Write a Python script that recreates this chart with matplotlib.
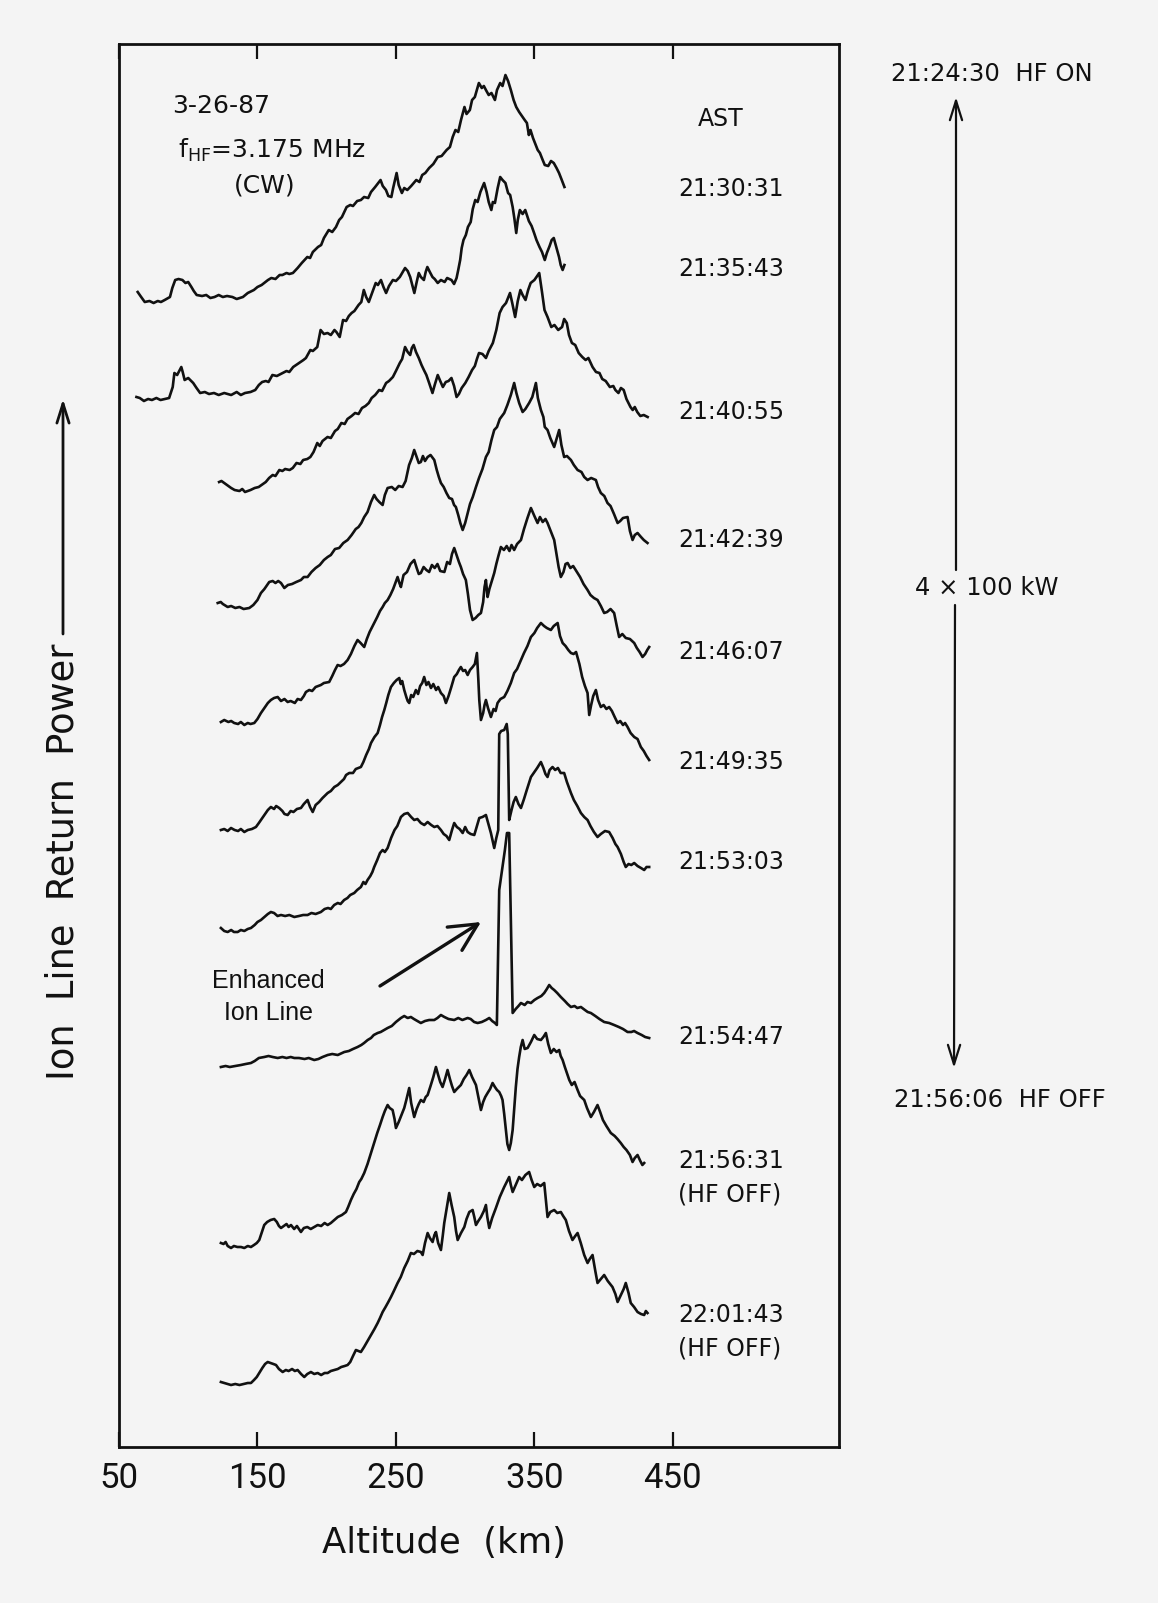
import matplotlib.pyplot as plt

# ion line return power profiles, Arecibo 3-26-87
# each profile: (altitude km, relative power)
times = ['21:30:31', '21:35:43', '21:40:55', '21:42:39', '21:46:07',
         '21:49:35', '21:53:03', '21:54:47', '21:56:31\n(HF OFF)', '22:01:43\n(HF OFF)']
offsets = [1147, 1049, 962, 844, 725, 618, 517, 381, 200, 64]

p2130 = [(63.5, 8), (65.5, 4), (68.6, -2), (72, -1), (75, -3), (78, -1), (80.3, -2), (83, 0), (86.8, 3),
         (88.5, 12), (90.6, 20), (93, 21), (95.8, 20), (98, 17), (100, 18), (102.3, 13), (104, 9), (106.1, 5),
         (110, 4), (113, 5), (116, 2), (119, 3), (122, 5), (125, 3), (128, 4), (131.9, 3), (135, 1), (139.5, 3),
         (143, 7), (147.4, 10), (150, 13), (153, 15), (157.6, 20), (160, 22), (163, 21), (166, 25), (168, 25),
         (171, 27), (173, 26), (175.6, 27), (179, 32), (182, 37), (186, 43), (188, 42), (190, 48), (193.7, 53),
         (196, 55), (198, 62), (201.5, 70), (204, 68), (206.7, 73), (209, 80), (211, 83), (214.4, 93), (217, 95),
         (219, 94), (222, 99), (224.7, 100), (227, 103), (230, 102), (232, 108), (235, 113), (238.9, 120),
         (240.5, 114), (242.8, 110), (244.5, 104), (246.7, 103), (248, 112), (250.5, 127), (252, 115),
         (254.3, 107), (256, 112), (258.2, 110), (261, 114), (264.7, 120), (267, 118), (269, 125), (271.2, 127),
         (274, 132), (277, 136), (280.2, 143), (283, 144), (286.6, 150), (289, 153), (291, 163), (293, 170),
         (295, 168), (297, 180), (299.5, 193), (301, 186), (303.4, 190), (305, 200), (307, 203), (309.9, 217),
         (312, 212), (313.5, 214), (315, 210), (317, 205), (319, 207), (321.5, 200), (323, 210), (325.3, 217),
         (327, 214), (329.1, 225), (331, 219), (333, 210), (335, 200), (336.9, 193), (339, 188), (341, 184),
         (343, 180), (344.6, 177), (346, 165), (347.2, 170), (349, 162), (352.4, 150), (354, 147), (356, 140),
         (357.5, 135), (360, 134), (362, 139), (364, 137), (366, 132), (367.8, 127), (369.5, 121), (371.7, 113)]

p2135 = [(62.6, 1), (65, 0), (68, -3), (71, -1), (73.8, -2), (77, 0), (80, -2), (83, -1), (86.2, 0), (88.8, 11),
         (90, 25), (92, 23), (95, 31), (96, 26), (97.4, 18), (100, 20), (103.6, 15), (106, 10), (108.6, 5),
         (112, 6), (115, 4), (118.6, 5), (122, 3), (126, 5), (131, 3), (135, 6), (138, 3), (141, 5), (145, 6),
         (148.4, 8), (151, 13), (153.4, 16), (156, 17), (158, 16), (160.8, 23), (164, 22), (168.3, 25), (171, 27),
         (173, 26), (175.8, 31), (179, 34), (181, 36), (183.2, 38), (185, 40), (188.2, 48), (190, 47),
         (193.2, 51), (195.6, 68), (198, 64), (200.6, 65), (203, 63), (205.6, 68), (207, 66), (209.4, 61),
         (211.8, 78), (214, 77), (216, 82), (218, 85), (220, 87), (223, 93), (225, 96), (226.8, 108),
         (228.5, 101), (230.4, 96), (233, 106), (235.4, 115), (237, 113), (239.2, 118), (241, 111), (242.9, 105),
         (245, 112), (247.8, 118), (250, 117), (252.8, 121), (254.5, 125), (256.6, 130), (258.5, 127),
         (260.3, 121), (262, 112), (263.3, 105), (265, 116), (266.5, 125), (268, 121), (270.2, 118),
         (271.5, 126), (272.7, 131), (274.5, 126), (276.4, 121), (278, 119), (280.2, 115), (282.5, 118),
         (285.2, 116), (287, 120), (290.1, 118), (292, 114), (293.8, 120), (295, 128), (296.4, 138),
         (297.5, 150), (298.8, 158), (300.5, 163), (302, 171), (304, 176), (305.5, 189), (307.3, 198),
         (309, 196), (311, 206), (313.7, 215), (315.5, 206), (317, 196), (318.9, 188), (320, 196), (321.5, 195),
         (323.5, 210), (325.3, 221), (327, 218), (329.1, 215), (331, 205), (332.5, 203), (334.3, 191),
         (335.5, 180), (336.9, 165), (338, 178), (339.5, 188), (341.5, 184), (343.4, 188), (346, 177),
         (348, 172), (349.8, 165), (351.5, 158), (353.7, 151), (355.5, 146), (357.5, 138), (359, 145),
         (361, 152), (362.5, 158), (364, 160), (366, 150), (367.8, 141), (369, 133), (370.4, 128), (371.7, 133)]

p2140 = [(122.3, 3), (124, 4), (126, 2), (129, -1), (131, -3), (133.5, -5), (137, -6), (139, -4), (141, -7),
         (145, -5), (148, -3), (150.9, -2), (154, 1), (156, 3), (158.4, 7), (161, 10), (163, 9), (165.8, 15),
         (168, 14), (170, 16), (173.2, 15), (175.5, 17), (178.2, 22), (181, 21), (183, 25), (186, 26),
         (188.2, 28), (190.5, 33), (193.2, 42), (195, 39), (197, 44), (200.6, 48), (203, 47), (206, 54),
         (208, 56), (210.6, 62), (213, 61), (215, 66), (218, 69), (220.5, 72), (223, 71), (225.5, 77), (228, 79),
         (230.4, 82), (232.5, 87), (235, 90), (237.9, 95), (240, 94), (242.9, 102), (245, 104), (247.8, 108),
         (250, 114), (252.8, 122), (254.5, 126), (256.6, 138), (258.5, 133), (260.3, 130), (261.5, 137),
         (262.8, 140), (264.5, 133), (266.5, 127), (268.5, 120), (270.2, 115), (272, 110), (274, 102),
         (276.4, 92), (278, 100), (280.2, 110), (282, 104), (283.9, 98), (286, 103), (288, 104), (290.1, 107),
         (292, 99), (293.8, 88), (295.5, 91), (297.5, 97), (300.1, 102), (302.5, 108), (305, 115), (307, 119),
         (308.5, 126), (310, 132), (312.5, 131), (315, 127), (317, 134), (320, 142), (322.5, 155), (324.9, 172),
         (327, 178), (329.5, 182), (332.4, 192), (334, 182), (336.1, 168), (338, 184), (339.9, 195),
         (341.5, 190), (343.6, 185), (345.5, 195), (347.3, 202), (350, 205), (353.5, 212), (355.5, 193),
         (357.3, 175), (359.5, 168), (362.2, 158), (364.5, 160), (367.2, 155), (370, 158), (371.5, 166),
         (373.4, 162), (375, 150), (377.1, 142), (379.5, 140), (382, 132), (384.6, 128), (387, 125), (389, 127),
         (392, 118), (394.5, 113), (397, 112), (399, 106), (401.5, 104), (404.5, 98), (407, 99), (408.5, 95),
         (410.7, 92), (412.5, 97), (414.5, 95), (416.5, 86), (419.4, 78), (421, 75), (422.5, 78), (424.3, 73),
         (426.5, 69), (429, 70), (431.8, 68)]

p2142 = [(121.3, 0), (123.5, 1), (125, -1), (128.5, -4), (131, -3), (134, -5), (137, -4), (140, -6), (144.1, -5),
         (147, -2), (150, 3), (152.5, 10), (155, 14), (158.5, 21), (161, 22), (163, 20), (165, 22), (167, 20),
         (169.4, 15), (172, 18), (175, 19), (178, 21), (181.4, 23), (183.5, 26), (186.2, 26), (189, 31),
         (192, 35), (195, 38), (198, 43), (200.7, 46), (203, 48), (206, 54), (209, 55), (212, 60), (215.1, 63),
         (218, 68), (221, 74), (223, 76), (225, 80), (227.1, 86), (229.5, 91), (232, 101), (234.3, 108),
         (236, 104), (238, 101), (240.4, 98), (242, 108), (244, 115), (247, 116), (249.5, 113), (252, 117),
         (254.8, 116), (257, 122), (259.5, 138), (261.5, 145), (263.2, 153), (265, 146), (266.5, 140), (268, 141),
         (269.5, 147), (271, 142), (272.9, 146), (275, 148), (277.7, 143), (279.5, 133), (281, 126),
         (282.5, 120), (284.5, 116), (286.5, 110), (288.5, 105), (290.5, 104), (292, 98), (293.3, 96), (295, 88),
         (296.5, 80), (298.2, 73), (300, 80), (301.8, 90), (303.5, 99), (305.5, 106), (307.8, 116), (310, 125),
         (312.5, 134), (315, 146), (317, 151), (319, 163), (321, 173), (323, 176), (325, 184), (328.2, 190),
         (330.5, 198), (333, 208), (335.4, 220), (337, 210), (339, 200), (341.5, 191), (343.5, 194),
         (346.2, 200), (348.5, 206), (351.1, 220), (352.5, 205), (354.7, 193), (356.5, 186), (357.5, 176),
         (359.5, 173), (361.5, 165), (364.3, 156), (366, 164), (367.9, 173), (369.5, 158), (371.5, 146),
         (373.5, 147), (376.4, 143), (378.5, 138), (381.2, 133), (384, 131), (386, 126), (388.4, 123),
         (391, 125), (394.4, 123), (396, 116), (398, 110), (400.5, 107), (402.8, 100), (405, 97), (407.5, 89),
         (410.1, 80), (412, 82), (414, 85), (417.3, 86), (419, 72), (420.9, 63), (422.5, 68), (424.5, 70),
         (427, 66), (429, 63), (431.7, 60)]

p2146 = [(123.6, 0), (126, 2), (129, 0), (131, 1), (133.2, -1), (136, -2), (138, 0), (140.5, -3), (143, -1),
         (145, -2), (147.7, -1), (150, 3), (152.5, 9), (155, 14), (157.5, 19), (159.7, 22), (162, 24),
         (164.6, 25), (167, 21), (169.5, 23), (171.8, 20), (174, 21), (177, 19), (179, 23), (181.4, 22),
         (183.5, 26), (185, 30), (187.4, 32), (189.5, 31), (192, 35), (195.8, 37), (198, 39), (201.8, 40),
         (204, 46), (206, 52), (207.9, 57), (210, 56), (212.5, 58), (215.1, 62), (217.5, 68), (220, 76),
         (222.3, 82), (224.5, 79), (227.1, 75), (229, 83), (231, 90), (234.3, 99), (236.5, 105), (238.5, 111),
         (240.4, 115), (242, 119), (244, 122), (246, 127), (248, 133), (251.2, 145), (252.5, 139), (253.6, 135),
         (255.5, 147), (258, 150), (260.5, 158), (263.2, 162), (265, 154), (266.5, 148), (268, 149), (270, 155),
         (272, 152), (274, 150), (276, 157), (278, 154), (280, 158), (282, 151), (285, 150), (287, 160),
         (289, 158), (290.5, 168), (292.1, 174), (294, 166), (295.5, 160), (296.9, 155), (298.5, 148),
         (300.5, 142), (302, 128), (303.5, 112), (305.4, 102), (307.5, 104), (309.5, 107), (311.4, 109),
         (313, 120), (314, 135), (315, 142), (316.2, 125), (317.5, 133), (319, 140), (321, 149), (322.5, 158),
         (324, 166), (325.8, 175), (328, 172), (330, 176), (332, 171), (333.5, 177), (335.4, 172), (337.5, 178),
         (340.3, 182), (342.5, 193), (345, 204), (347.5, 214), (350, 206), (352.3, 199), (354, 205), (356, 200),
         (358, 203), (359.5, 199), (361.5, 192), (364.3, 182), (366, 168), (367.5, 155), (369.1, 145),
         (371, 150), (372.5, 158), (374, 159), (376, 154), (378, 156), (381.2, 149), (383, 145), (385.5, 138),
         (388.4, 132), (390.5, 127), (393, 124), (395.6, 122), (398, 116), (400.4, 109), (402.5, 110),
         (405, 113), (407.6, 109), (409.5, 96), (411.2, 85), (413.5, 88), (416, 84), (419, 83), (422.1, 79),
         (424, 74), (426, 70), (428.1, 65), (430, 68), (431.5, 72), (432.9, 75)]

p2149 = [(123.6, -1), (126, 0), (128.5, -2), (130.9, 1), (133.5, -1), (136, -2), (138, 0), (140.5, -3), (143, -1),
         (146, 0), (148.9, 2), (151, 6), (153, 10), (155, 14), (157.5, 19), (159.7, 22), (162, 20), (163.5, 23),
         (165.7, 21), (168, 18), (169.5, 15), (171.8, 14), (174, 18), (176, 17), (178.5, 20), (181.4, 21),
         (183.5, 25), (186.2, 29), (188, 22), (189.9, 17), (192, 24), (194.5, 27), (197, 31), (200.7, 36),
         (203, 38), (205.5, 42), (208, 44), (210.3, 47), (212.5, 50), (214, 54), (216.3, 56), (219, 56),
         (221, 60), (224.7, 62), (226.5, 67), (228.5, 74), (230.5, 80), (232, 86), (234.5, 92), (236.8, 96),
         (238.5, 104), (240, 112), (241.6, 119), (243, 126), (244.5, 134), (246.4, 142), (248.5, 146),
         (250.5, 149), (252.4, 151), (253.5, 145), (254.5, 148), (256, 139), (257.5, 132), (258.5, 128),
         (259.6, 126), (261, 134), (262.5, 132), (264.4, 139), (266, 135), (267.5, 143), (269, 146),
         (270.4, 152), (272, 144), (273.5, 147), (275.3, 141), (277, 145), (279, 139), (280.5, 142),
         (282.5, 136), (284.5, 133), (286.1, 126), (288, 133), (290, 142), (292.1, 152), (294, 155),
         (295.5, 159), (296.9, 162), (298.5, 158), (300, 159), (301.8, 154), (303.5, 159), (305.4, 162),
         (307, 165), (308.5, 176), (309.5, 150), (310.2, 129), (311.4, 109), (313, 116), (314, 124), (315, 129),
         (316.5, 121), (318.6, 112), (320.5, 120), (322, 118), (323.4, 126), (325.5, 130), (328.2, 132),
         (330.5, 138), (333, 146), (335.4, 156), (337.5, 160), (340.3, 169), (342.5, 176), (345, 183),
         (347.5, 192), (350, 196), (352, 201), (354.7, 206), (357, 203), (359, 201), (361.9, 199), (364, 203),
         (366.8, 206), (368.5, 193), (370.4, 186), (372.5, 183), (374.5, 179), (376.4, 176), (378.3, 175),
         (380.1, 177), (382.5, 165), (384.5, 152), (386.5, 143), (388.4, 136), (389.6, 114), (391, 124),
         (392.5, 133), (394.4, 139), (396, 129), (398, 122), (400, 124), (402, 120), (404, 122), (406, 118),
         (408, 112), (410.1, 106), (412, 108), (414, 104), (415.5, 106), (417.3, 102), (419.5, 96), (422.1, 92),
         (424.5, 90), (426.9, 82), (429, 78), (431, 73), (432.9, 69)]

p2153 = [(123.6, 2), (126, -1), (128.5, -2), (131, 0), (133, -2), (135.7, -2), (138, 0), (140.5, -1), (143, 1),
         (145.3, 2), (148, 5), (150, 8), (152.5, 10), (155, 13), (157.5, 16), (159.7, 18), (162, 17), (164.5, 14),
         (167, 15), (170, 14), (173, 15), (176.6, 13), (180, 14), (183, 15), (186.2, 15), (189, 17), (192, 16),
         (195.8, 18), (198.5, 21), (201, 22), (203, 21), (205.4, 25), (208, 27), (210, 26), (212.6, 30),
         (215, 32), (217, 35), (219.9, 37), (222, 40), (224.7, 43), (226.5, 48), (228, 46), (229.5, 50),
         (231.5, 54), (233, 58), (234.3, 63), (236.5, 70), (238.5, 77), (240.4, 80), (242, 78), (244, 82),
         (246.5, 92), (249, 100), (251, 104), (253.6, 113), (256, 116), (258.5, 117), (261, 113), (263.2, 110),
         (265.5, 111), (268, 107), (270.5, 105), (272.9, 108), (275.5, 105), (277.7, 103), (280, 104),
         (282.5, 100), (284.5, 96), (286.5, 94), (288.5, 90), (290.5, 100), (292.1, 107), (294, 103), (296, 101),
         (298.2, 97), (300, 103), (301.8, 98), (304, 96), (306.6, 95), (308.5, 104), (310.2, 112), (312.5, 113),
         (315, 115), (317, 105), (318.6, 97), (320, 88), (321, 82), (322.5, 92), (323.9, 100), (324.6, 196),
         (326, 199), (328.2, 200), (330, 206), (330.8, 196), (331.8, 110), (333.5, 120), (335, 128),
         (336.6, 133), (338.5, 126), (340.3, 122), (342.5, 131), (344.5, 140), (347.5, 153), (350, 158),
         (352, 162), (354.7, 168), (356.5, 162), (358, 156), (359.5, 153), (361, 160), (363.1, 163), (365, 160),
         (367, 162), (369, 157), (371.5, 157), (373.5, 148), (376.4, 137), (378.5, 130), (381, 124),
         (383.6, 117), (386, 113), (388.4, 110), (390.5, 104), (393, 98), (395.6, 93), (398, 96), (401, 99),
         (404, 98), (406.5, 92), (408.5, 86), (410.1, 83), (412.5, 76), (414.5, 68), (416, 63), (418, 66),
         (420, 65), (422.1, 67), (424.5, 64), (427, 62), (429.3, 60), (431, 63), (432.9, 63)]

p2154 = [(123.6, -1), (127, 0), (130, -1), (134, 0), (138.1, 1), (141.5, 2), (145.3, 3), (148, 5), (151, 8),
         (154.9, 9), (158, 10), (161, 9), (164.6, 8), (168, 9), (171, 8), (174, 9), (176.6, 8), (180, 8), (184, 7),
         (187, 8), (191, 6), (194, 7), (197, 9), (200.7, 11), (204, 12), (208, 11), (212.7, 14), (216, 15),
         (219, 17), (222.3, 19), (225, 21), (227, 23), (229.6, 26), (232, 28), (234, 31), (236.8, 33), (239, 34),
         (241.5, 36), (244, 38), (247, 40), (250, 44), (253.6, 48), (256, 50), (258.5, 48), (260.8, 49),
         (263, 47), (265.5, 45), (268, 43), (271, 45), (274, 46), (277.7, 46), (280, 48), (282.5, 51), (285, 49),
         (288, 47), (292.1, 46), (295, 48), (298, 46), (301.8, 48), (304, 47), (306.5, 44), (309, 43), (312, 44),
         (315, 46), (317.4, 48), (319.5, 45), (321.5, 43), (322.9, 41), (324.6, 176), (328.7, 216),
         (330.2, 233), (331.8, 233), (334.3, 53), (336.5, 57), (338.5, 60), (340.3, 63), (343, 61), (345, 64),
         (347.5, 63), (350, 66), (352.3, 68), (355, 70), (357.1, 73), (359, 77), (360.7, 81), (362.5, 78),
         (364.3, 76), (366.5, 73), (369.1, 69), (372, 65), (374, 62), (376.4, 59), (379, 60), (381, 58),
         (383.6, 59), (386.5, 56), (388.5, 54), (390.8, 53), (394, 50), (397, 47), (400.4, 44), (404, 43),
         (407.6, 41), (411, 39), (414, 37), (417.3, 34), (420, 34), (422, 35), (424.5, 33), (427.5, 31),
         (430, 29), (432.9, 28)]

p2156 = [(123.6, 4), (125.5, 3), (127, 5), (128.5, 1), (130.9, -1), (133, 1), (135.5, 0), (138.1, 0), (140.5, -1),
         (143, 1), (145.3, 0), (147.5, 2), (149.5, 4), (151.3, 7), (153, 14), (154.9, 22), (157, 25), (159.5, 27),
         (162.1, 28), (164, 25), (165.5, 21), (167, 19), (169, 21), (171, 23), (172.5, 20), (174.2, 22),
         (176.5, 18), (178.5, 21), (181.4, 15), (183.5, 19), (186, 20), (188.5, 18), (191, 20), (193.5, 22),
         (196, 21), (198.5, 24), (200.7, 22), (203, 24), (205.5, 27), (208, 30), (211, 32), (213.9, 35),
         (215.5, 40), (217.5, 47), (219.5, 53), (221.5, 58), (223.5, 65), (225, 68), (227.1, 74), (229.5, 83),
         (232, 94), (234.3, 104), (236.5, 114), (238.5, 122), (240.4, 130), (242, 136), (244, 142),
         (245.5, 139), (247.6, 137), (249, 128), (250, 119), (252, 125), (254, 132), (256, 139), (257.5, 147),
         (259.6, 159), (261, 144), (263.2, 130), (265, 138), (266.5, 143), (268, 147), (270, 145), (271.5, 150),
         (272.9, 152), (275, 161), (277, 170), (278.9, 180), (280.5, 172), (282, 165), (283.7, 160),
         (285.5, 168), (287.3, 177), (289, 168), (290.5, 161), (292.1, 155), (294, 158), (295.5, 160),
         (296.9, 162), (299, 168), (301, 172), (303, 177), (305, 170), (307.8, 162), (309.5, 150), (311.4, 137),
         (313, 145), (314.5, 150), (316.2, 154), (318, 158), (319.8, 164), (321.5, 160), (323, 157),
         (324.6, 155), (326, 151), (327, 147), (328.2, 133), (329.4, 117), (330.5, 103), (331.8, 97), (333, 104),
         (334.3, 117), (335.5, 140), (336.6, 160), (337.8, 178), (339, 190), (340.2, 200), (341.5, 207),
         (343, 198), (345.1, 199), (347.5, 205), (349.9, 212), (352, 208), (354.7, 207), (356.5, 210),
         (358.3, 214), (360, 203), (361.9, 194), (364, 198), (366, 195), (367.9, 197), (369, 191), (370.4, 187),
         (372, 180), (373.5, 174), (375.2, 167), (377, 162), (379, 165), (381.2, 157), (383, 151), (386, 147),
         (388, 139), (390.8, 130), (393, 135), (395.6, 142), (397.5, 135), (399.5, 127), (402, 121),
         (405.2, 114), (408, 111), (410, 108), (412.4, 104), (414.5, 100), (416.5, 97), (419, 92), (420.9, 85),
         (422.5, 89), (424.5, 92), (426.5, 86), (428, 82), (429.3, 84)]

p2201 = [(123.6, 1), (126, 0), (128.5, -1), (130.9, -2), (134, -1), (137, -2), (140, -1), (143, 0), (145.3, 0),
         (147.5, 3), (149.5, 6), (151.3, 10), (153.5, 15), (155.5, 19), (157.4, 21), (159.5, 20), (161.5, 19),
         (163.4, 18), (165.5, 14), (168.2, 11), (170.5, 13), (172.5, 12), (175, 14), (177, 12), (179, 13),
         (181.5, 9), (183.8, 6), (186, 9), (188.6, 11), (191, 9), (193.5, 10), (196, 8), (198.5, 10),
         (200.7, 10), (203, 12), (205.5, 13), (208, 14), (210.5, 16), (213, 17), (215.1, 18), (217, 21),
         (219, 27), (221.1, 33), (223, 32), (224.7, 31), (227, 36), (229.5, 42), (232, 48), (234.5, 54),
         (236.8, 60), (238.5, 65), (240.4, 71), (242.5, 76), (244.5, 81), (246.4, 86), (248.5, 92), (251.2, 100),
         (253.5, 106), (256, 115), (258.5, 122), (260.8, 130), (263, 129), (265.5, 132), (268, 131),
         (269.3, 128), (271, 140), (272.9, 150), (274.5, 145), (276.5, 141), (277.8, 148), (278.9, 151),
         (280.5, 140), (282.5, 133), (283.8, 147), (284.9, 160), (286.8, 176), (288.5, 190), (290.2, 178),
         (292.1, 166), (293.4, 152), (294.6, 143), (297, 150), (299.4, 156), (301, 164), (303, 171),
         (305.4, 173), (306.6, 166), (307.8, 158), (309.5, 162), (311.4, 166), (313.5, 172), (315, 178),
         (316, 166), (317.4, 155), (319.5, 165), (322.2, 175), (325, 186), (328.2, 196), (330, 201),
         (331.8, 206), (333, 198), (334.3, 191), (336.5, 198), (339, 206), (341, 203), (343.5, 208),
         (346.2, 211), (348, 203), (349.9, 196), (352, 199), (354.5, 197), (357.1, 200), (358.3, 183),
         (359.5, 166), (361.5, 171), (364.3, 173), (366.5, 170), (369.1, 171), (370.8, 167), (372.7, 163),
         (375, 152), (377.5, 143), (379.5, 147), (381.2, 150), (383.5, 140), (386, 128), (388.4, 120),
         (390, 124), (392, 128), (394, 112), (395.6, 100), (398, 104), (400.4, 108), (403, 102), (406.4, 96),
         (408.5, 89), (410.1, 81), (412.5, 88), (414.5, 94), (416, 100), (418, 90), (419.6, 80), (422, 76),
         (424.5, 71), (427, 69), (429.3, 68), (430.5, 72), (431.7, 70)]

profiles = [p2130, p2135, p2140, p2142, p2146, p2149, p2153, p2154, p2156, p2201]
xticks = [50, 150, 250, 350, 450]

W, H = 1158, 1603
BG = '#f4f4f4'
INK = '#111111'


def fp(x, y):
    # pixel position on the page -> figure fraction
    return x / W, 1 - y / H


fig = plt.figure(figsize=(W / 100, H / 100), dpi=100, facecolor=BG)
ax = fig.add_axes([119 / W, 1 - 1447 / H, (839 - 119) / W, (1447 - 44) / H], facecolor=BG)

for prof, off in zip(profiles, offsets):
    alt, pw = zip(*prof)
    ax.plot(alt, [off + v for v in pw], color=INK, lw=1.9, solid_joinstyle='round')

ax.set_xlim(50, 570)
ax.set_ylim(0, 1403)
ax.set_yticks([])
ax.set_xticks(xticks)
ax.set_xticklabels([str(t) for t in xticks], fontfamily='Roboto')
ax.tick_params(axis='x', direction='in', length=11, width=1.6, top=True, labeltop=False,
               labelsize=25, pad=11, colors=INK)
for s in ax.spines.values():
    s.set_linewidth(2.0)
    s.set_color(INK)
fig.text(*fp(444, 1543), 'Altitude  (km)', fontsize=25.5, ha='center', va='center', color=INK)

# header text inside the box
fig.text(*fp(221, 106), '3-26-87', fontsize=18, ha='center', va='center', color=INK)
fig.text(*fp(272, 150), r'f$_{\mathregular{HF}}$=3.175 MHz', fontsize=18, ha='center', va='center', color=INK)
fig.text(*fp(265, 186), '(CW)', fontsize=18, ha='center', va='center', color=INK)
fig.text(*fp(721, 119), 'AST', fontsize=17, ha='center', va='center', color=INK)

label_y = [189, 269, 412, 540, 652, 762, 862, 1037, 1178, 1332]
for t, y in zip(times, label_y):
    fig.text(*fp(678, y), t, fontsize=17, ha='left', va='center', color=INK, linespacing=1.5)

# y label with arrow
fig.text(*fp(63, 862), 'Ion  Line  Return  Power', fontsize=26.5, rotation=90,
         ha='center', va='center', color=INK)
arrow = dict(arrowstyle='->,head_length=0.7,head_width=0.22', lw=2.0, color=INK,
             shrinkA=0, shrinkB=0, mutation_scale=20)
ax.annotate('', xy=fp(63, 399), xytext=fp(63, 634), xycoords='figure fraction', arrowprops=arrow)

# HF on/off timeline on the right
fig.text(*fp(992, 74), '21:24:30  HF ON', fontsize=17.5, ha='center', va='center', color=INK)
fig.text(*fp(987, 588), '4 \u00d7 100 kW', fontsize=17.5, ha='center', va='center', color=INK)
fig.text(*fp(1000, 1100), '21:56:06  HF OFF', fontsize=17.5, ha='center', va='center', color=INK)
thin = dict(arrow, lw=1.6)
ax.annotate('', xy=fp(956, 97), xytext=fp(956, 570), xycoords='figure fraction', arrowprops=thin)
ax.annotate('', xy=fp(954, 1068), xytext=fp(955, 605), xycoords='figure fraction', arrowprops=thin)

# enhanced ion line callout
fig.text(*fp(268, 997), 'Enhanced\nIon Line', fontsize=18, family='Liberation Sans',
         ha='center', va='center', linespacing=1.45, color=INK)
ax.annotate('', xy=fp(481, 922), xytext=fp(380, 986), xycoords='figure fraction',
            arrowprops=dict(arrowstyle='->,head_length=0.9,head_width=0.45', lw=2.4, color=INK,
                            shrinkA=0, shrinkB=0, mutation_scale=22))

fig.savefig('out.png', dpi=100, facecolor=BG)
